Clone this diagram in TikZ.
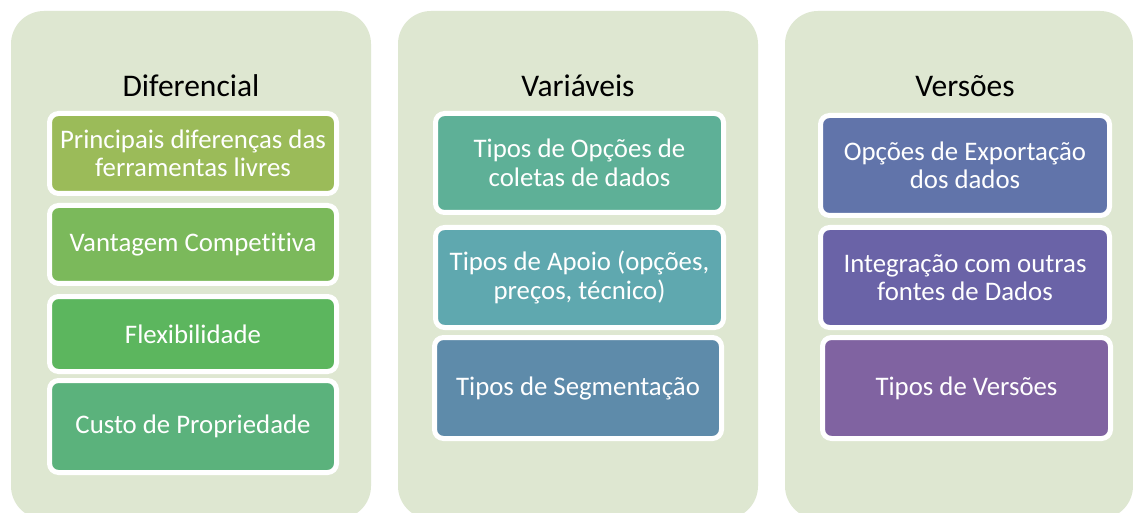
\documentclass[tikz,border=0pt]{standalone}
\usepackage{fontspec}
\setmainfont{Carlito}[Ligatures=NoCommon]
\definecolor{panelbg}{HTML}{DEE7D1}
\definecolor{ca}{HTML}{9BBB59}
\definecolor{cb}{HTML}{7BB95B}
\definecolor{cc}{HTML}{5CB65E}
\definecolor{cd}{HTML}{5BB27C}
\definecolor{ce}{HTML}{5EB097}
\definecolor{cf}{HTML}{5FA8AF}
\definecolor{cg}{HTML}{5E8BAA}
\definecolor{ch}{HTML}{6174AA}
\definecolor{ci}{HTML}{6A63A7}
\definecolor{cj}{HTML}{8063A1}
\tikzset{
  panel/.style={fill=panelbg, rounded corners=33pt, minimum height=508pt, inner sep=0pt},
  ptitle/.style={font=\fontsize{31.5}{36}\selectfont, text=black, anchor=base, inner sep=0pt},
  item/.style={draw=white, line width=5pt, rounded corners=9pt, inner sep=0pt, align=center,
    text=white, font=\fontsize{26.8}{28.5}\selectfont},
}
\begin{document}
\begin{tikzpicture}[x=1pt,y=-1pt]
\clip (0,0) rectangle (1133,513);
\fill[white] (0,0) rectangle (1133,513);
% panels
\node[panel, minimum width=360pt] (p1) at (191,265) {};
\node[panel, minimum width=360pt] (p2) at (578,265) {};
\node[panel, minimum width=348pt] (p3) at (959,265) {};
% titles
\node[ptitle] (t1) at (191,97) {Diferencial};
\node[ptitle] (t2) at (578,97) {Variáveis};
\node[ptitle] (t3) at (965,97) {Versões};
% panel 1 items
\node[item, fill=ca, minimum width=287pt, minimum height=80pt] (a1) at (193,153.5) {Principais diferenças das\\ferramentas livres};
\node[item, fill=cb, minimum width=287pt, minimum height=78pt] (a2) at (193,244.5) {Vantagem Competitiva};
\node[item, fill=cc, minimum width=287pt, minimum height=75pt] (a3) at (193,334) {Flexibilidade};
\node[item, fill=cd, minimum width=287pt, minimum height=92pt] (a4) at (193,426.5) {Custo de Propriedade};
% panel 2 items
\node[item, fill=ce, minimum width=288pt, minimum height=99pt] (b1) at (579.5,163) {Tipos de Opções de\\coletas de dados};
\node[item, fill=cf, minimum width=288pt, minimum height=100pt] (b2) at (579.5,277.5) {Tipos de Apoio (opções,\\preços, técnico)};
\node[item, fill=cg, minimum width=287pt, minimum height=101pt] (b3) at (578,388) {Tipos de Segmentação};
% panel 3 items
\node[item, fill=ch, minimum width=289pt, minimum height=100pt] (c1) at (965,165.5) {Opções de Exportação\\dos dados};
\node[item, fill=ci, minimum width=289pt, minimum height=100pt] (c2) at (965,277.5) {Integração com outras\\fontes de Dados};
\node[item, fill=cj, minimum width=288pt, minimum height=101pt] (c3) at (966.5,388) {Tipos de Versões};
\end{tikzpicture}
\end{document}
